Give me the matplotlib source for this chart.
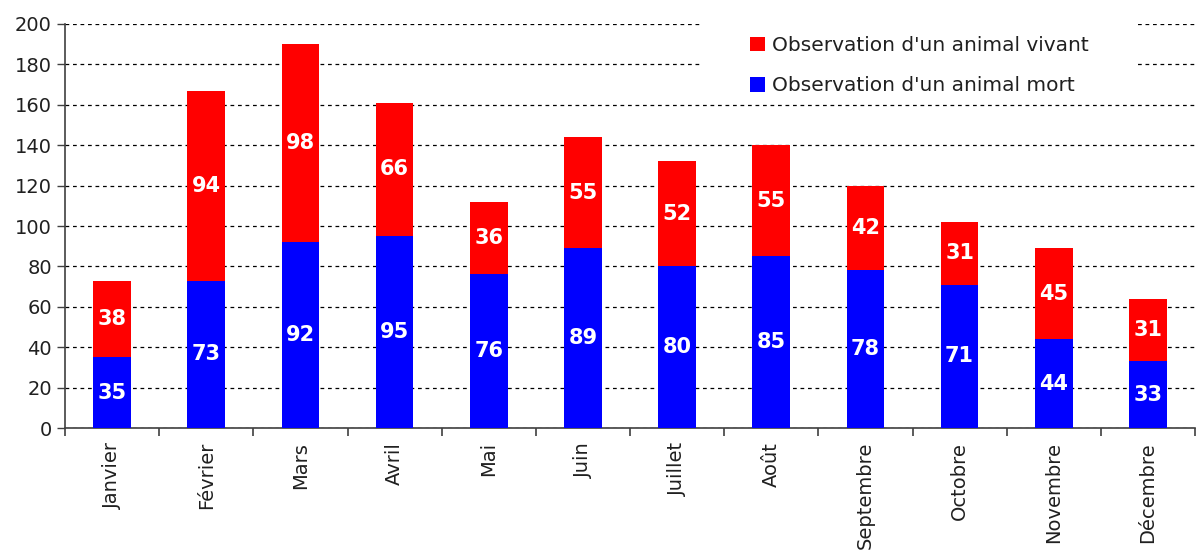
import matplotlib
matplotlib.use("Agg")
import matplotlib.pyplot as plt
from matplotlib.patches import Rectangle
import numpy as np

months = ["Janvier", "Février", "Mars", "Avril", "Mai", "Juin", "Juillet",
          "Août", "Septembre", "Octobre", "Novembre", "Décembre"]
mort = [35, 73, 92, 95, 76, 89, 80, 85, 78, 71, 44, 33]
vivant = [38, 94, 98, 66, 36, 55, 52, 55, 42, 31, 45, 31]
yticks = list(range(0, 201, 20))

plt.rcParams['font.family'] = ['DejaVu Sans']

fig = plt.figure(figsize=(11.98, 5.54), dpi=100)
ax = fig.add_axes([0.0543, 0.2274, 0.9432, 0.7293])

x = np.arange(len(months))
b1 = ax.bar(x, mort, width=0.4, color="#0000ff", label="Observation d'un animal mort", zorder=3)
b2 = ax.bar(x, vivant, width=0.4, bottom=mort, color="#ff0000", label="Observation d'un animal vivant", zorder=3)

for xi, m, v in zip(x, mort, vivant):
    ax.text(xi, m / 2, str(m), ha="center", va="center", color="white",
            fontsize=15, fontweight="bold", zorder=4)
    ax.text(xi, m + v / 2, str(v), ha="center", va="center", color="white",
            fontsize=15, fontweight="bold", zorder=4)

ax.set_xlim(-0.5, len(months) - 0.5)
ax.set_ylim(0, 200)
ax.set_yticks(yticks)
ax.tick_params(axis="y", labelsize=14, length=6, width=1, color="#404040", colors="#202020")
ax.set_xticks(x)
ax.set_xticklabels(months, rotation=90, fontsize=14, color="#202020")
ax.tick_params(axis="x", which="major", length=0, pad=10)
ax.set_xticks(np.arange(-0.5, len(months), 1), minor=True)
ax.tick_params(axis="x", which="minor", length=6, width=1.2, color="#404040")

ax.yaxis.grid(True, linestyle=(0, (3, 3)), color="black", linewidth=0.9, zorder=0)
ax.set_axisbelow(True)
for s in ["top", "right"]:
    ax.spines[s].set_visible(False)
for s in ["left", "bottom"]:
    ax.spines[s].set_color("#404040")
    ax.spines[s].set_linewidth(1.2)

# white legend background box
ax.add_patch(Rectangle((0.562, 0.817), 0.385, 0.205, transform=ax.transAxes,
                       facecolor="white", edgecolor="none", zorder=2, clip_on=False))

leg = ax.legend(handles=[b2, b1], loc="upper left", bbox_to_anchor=(0.606, 0.970),
                frameon=False, fontsize=14.5, handlelength=0.75, handleheight=0.75,
                handletextpad=0.35, labelspacing=1.05, borderpad=0, borderaxespad=0)
leg.set_zorder(5)
for t in leg.get_texts():
    t.set_color("#202020")

fig.savefig("out.png", dpi=100)
